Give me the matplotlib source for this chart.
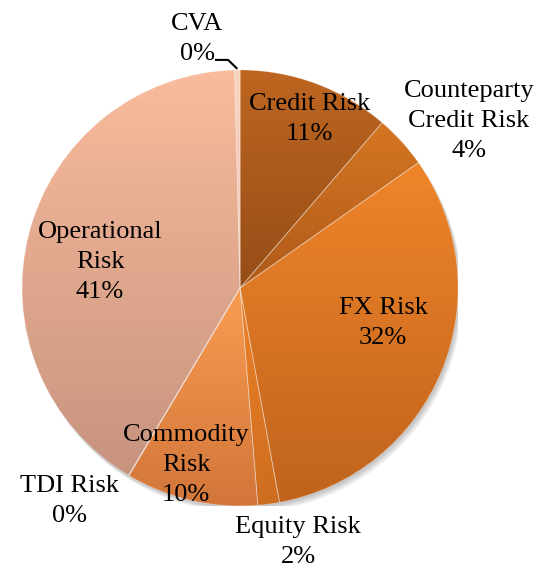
import numpy as np
import matplotlib
matplotlib.use('Agg')
import matplotlib.pyplot as plt
from matplotlib.colors import LinearSegmentedColormap
from matplotlib.patches import Circle

# data (share of capital requirement, %), clockwise from 12 o'clock
categories = ['Credit Risk', 'Counteparty\nCredit Risk', 'FX Risk', 'Equity Risk',
              'Commodity\nRisk', 'TDI Risk', 'Operational\nRisk', 'CVA']
values = [11.3, 3.95, 31.85, 1.6, 9.8, 0.05, 41.05, 0.4]

# gradient colours per wedge (top, bottom)
grad_cols = [('#BE6621', '#964D17'),
             ('#D57622', '#B05A1B'),
             ('#F0852A', '#BF631D'),
             ('#EF8227', '#CD6D20'),
             ('#F99C52', '#D2763A'),
             ('#F3B090', '#C99380'),
             ('#F9BC9C', '#C7937F'),
             ('#FAD3BE', '#F2C0A8')]

# label centres in units of the radius
label_pos = [(0.317, 0.775), (1.050, 0.766), (0.656, -0.161), (0.266, -1.165),
             (-0.248, -0.812), (-0.784, -0.977), (-0.642, 0.119), (-0.197, 1.142)]

plt.rcParams['font.family'] = ['Liberation Serif', 'DejaVu Serif']

fig = plt.figure(figsize=(5.52, 5.70), dpi=100)
ax = fig.add_axes([0.0399, 0.1123, 0.790, 0.765])

# soft shadow, bottom right
for k in range(1, 6):
    ax.add_patch(Circle((0.004 * k, -0.006 * k), 1.0, color='#000000',
                        alpha=0.05, lw=0, zorder=0))

wedges, _ = ax.pie(values, startangle=90, counterclock=False, radius=1.0,
                   wedgeprops=dict(linewidth=0.6, edgecolor=(1, 1, 1, 0.35)))

for w, (c_top, c_bot) in zip(wedges, grad_cols):
    ext = w.get_path().get_extents()
    cmap = LinearSegmentedColormap.from_list('g', [c_bot, c_top])
    grad = np.linspace(0, 1, 256).reshape(-1, 1)
    w.set_facecolor('none')
    im = ax.imshow(grad, cmap=cmap, origin='lower', aspect='auto',
                   extent=[ext.x0, ext.x1, ext.y0, ext.y1], zorder=1,
                   interpolation='bilinear')
    im.set_clip_path(w)
    w.set_zorder(2)

total = sum(values)
for name, v, (lx, ly) in zip(categories, values, label_pos):
    ax.text(lx, ly, '%s\n%.0f%%' % (name, v / total * 100), ha='center', va='center',
            fontsize=19, color='black', zorder=5, linespacing=1.45)

# leader line for CVA
w = wedges[-1]
ang = np.deg2rad((w.theta1 + w.theta2) / 2)
ex, ey = np.cos(ang), np.sin(ang)
ax.plot([-0.115, -0.055, ex], [1.046, 1.046, ey + 0.005], color='black', lw=1.5,
        zorder=6, clip_on=False, solid_capstyle='butt')

ax.set_xlim(-1, 1)
ax.set_ylim(-1, 1)
ax.set_aspect('auto')
ax.axis('off')

fig.savefig('out.png', dpi=100)
